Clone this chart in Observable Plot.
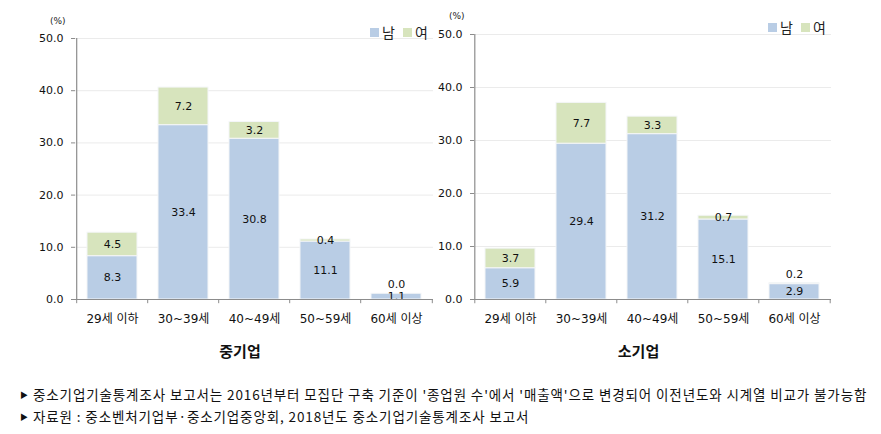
<!DOCTYPE html>
<html><head><meta charset="utf-8">
<script src="https://cdn.jsdelivr.net/npm/d3@7"></script>
<script src="https://cdn.jsdelivr.net/npm/@observablehq/plot@0.6"></script>
<style>
body{margin:0;background:#fff;}
#wrap{position:relative;width:881px;height:434px;overflow:hidden;font-family:"DejaVu Sans","Noto Sans CJK KR",sans-serif;}
.chart{position:absolute;top:0;}
.title{position:absolute;font-family:"Noto Sans CJK KR",sans-serif;font-weight:bold;font-size:15px;color:#111;transform:translate(-50%,-50%);white-space:nowrap;}
.unit{position:absolute;font-size:9px;color:#222;font-family:"DejaVu Sans",sans-serif;}
.legend{position:absolute;display:flex;align-items:center;font-family:"Noto Sans CJK KR",sans-serif;font-size:14px;color:#222;line-height:1;}
.legend .sw{width:9px;height:9px;display:inline-block;margin-right:3px;}
.legend .it{display:flex;align-items:center;margin-right:8px;}
.note{position:absolute;left:20px;font-family:"Noto Sans CJK KR",sans-serif;font-size:13.5px;color:#111;white-space:nowrap;letter-spacing:0.88px;line-height:1;}
.note .tri{font-size:8px;margin-right:5px;position:relative;top:-2px;letter-spacing:0;}
</style></head>
<body><div id="wrap"></div>
<script>
const categories = ["29세 이하","30~39세","40~49세","50~59세","60세 이상"];
const seriesNames = ["남","여"];
const seriesColors = ["#b9cde5","#d7e4bd"];
const midMale = [8.3,33.4,30.8,11.1,1.1];
const midFemale = [4.5,7.2,3.2,0.4,0.0];
const smallMale = [5.9,29.4,31.2,15.1,2.9];
const smallFemale = [3.7,7.7,3.3,0.7,0.2];
const yTicks = [0,10,20,30,40,50];
const titles = ["중기업","소기업"];
const notes = [
  "중소기업기술통계조사 보고서는 2016년부터 모집단 구축 기준이 '종업원 수'에서 '매출액'으로 변경되어 이전년도와 시계열 비교가 불가능함",
  "자료원 : 중소벤처기업부·중소기업중앙회, 2018년도 중소기업기술통계조사 보고서"
];

const wrap = document.getElementById("wrap");

function makeChart(male, female, cfg){
  const rows = [];
  categories.forEach((c,i)=>{
    rows.push({cat:c, sex:seriesNames[0], value:male[i]});
    rows.push({cat:c, sex:seriesNames[1], value:female[i]});
  });
  const labels = [];
  categories.forEach((c,i)=>{
    labels.push({cat:c, y:male[i]/2, t:male[i].toFixed(1), small:false});
    const small = female[i] < 0.3;
    labels.push({cat:c, y: small ? male[i]+female[i] : male[i]+female[i]/2, t:female[i].toFixed(1), small});
  });
  const n = categories.length;
  const step = (cfg.width - cfg.marginLeft - cfg.marginRight)/n;
  const axisColor = "#8c8c8c";
  const chart = Plot.plot({
    width: cfg.width, height: 365,
    marginTop: cfg.marginTop, marginBottom: 66,
    marginLeft: cfg.marginLeft, marginRight: cfg.marginRight,
    style: {fontFamily:'"DejaVu Sans","Noto Sans CJK KR",sans-serif', background:"transparent", overflow:"visible", color:"#222"},
    x: {domain: categories, paddingInner: 0.29, paddingOuter: 0.145, axis: null},
    y: {domain: [0,50], axis: null},
    color: {domain: seriesNames, range: seriesColors},
    marks: [
      Plot.ruleY(yTicks.filter(d=>d>0), {stroke:"#ebebeb"}),
      Plot.barY(rows, {x:"cat", y:"value", fill:"sex", stroke:"#f4f6f8", strokeWidth:1}),
      Plot.text(labels.filter(d=>!d.small), {x:"cat", y:"y", text:"t", fontSize:11, fill:"#111"}),
      Plot.text(labels.filter(d=>d.small), {x:"cat", y:"y", text:"t", fontSize:11, fill:"#111", dy:-9}),
      Plot.ruleY([0], {stroke:axisColor, strokeWidth:1.2}),
      Plot.ruleX([categories[0]], {y1:0, y2:50, dx:-step/2, stroke:axisColor, strokeWidth:1.2}),
      Plot.ruleX(categories, {y1:0, y2:-0.8, dx:-step/2, stroke:axisColor}),
      Plot.ruleX([categories[n-1]], {y1:0, y2:-0.8, dx:step/2, stroke:axisColor}),
      Plot.axisY({ticks:yTicks, tickFormat:d3.format(".1f"), tickSize:4, tickPadding:8, stroke:axisColor, fill:"#111", fontSize:11, label:null}),
      Plot.axisX({tickSize:0, tickPadding:15, fontSize:12, fill:"#111", label:null})
    ]
  });
  chart.classList.add("chart");
  chart.style.left = cfg.left + "px";
  wrap.appendChild(chart);

  const t = document.createElement("div");
  t.className = "title";
  t.textContent = cfg.title;
  t.style.left = (cfg.left + cfg.marginLeft + (cfg.width - cfg.marginLeft - cfg.marginRight)/2 - 14) + "px";
  t.style.top = "350px";
  wrap.appendChild(t);

  const u = document.createElement("div");
  u.className = "unit";
  u.textContent = "(%)";
  u.style.left = cfg.unitX + "px";
  u.style.top = cfg.unitY + "px";
  wrap.appendChild(u);

  const lg = document.createElement("div");
  lg.className = "legend";
  lg.style.left = cfg.legX + "px";
  lg.style.top = cfg.legY + "px";
  seriesNames.forEach((s,i)=>{
    const it = document.createElement("span");
    it.className = "it";
    const sw = document.createElement("span");
    sw.className = "sw";
    sw.style.background = seriesColors[i];
    it.appendChild(sw);
    it.appendChild(document.createTextNode(s));
    lg.appendChild(it);
  });
  wrap.appendChild(lg);
}

makeChart(midMale, midFemale, {title:titles[0], left:0, width:440, marginLeft:75, marginRight:7, marginTop:38, unitX:50, unitY:16, legX:370, legY:25});
makeChart(smallMale, smallFemale, {title:titles[1], left:440, width:441, marginLeft:34, marginRight:50, marginTop:34, unitX:449, unitY:11, legX:768, legY:20});

notes.forEach((s,i)=>{
  const d = document.createElement("div");
  d.className = "note";
  d.style.top = (i===0 ? 388 : 410) + "px";
  const tri = document.createElement("span");
  tri.className = "tri";
  tri.textContent = "▶";
  d.appendChild(tri);
  d.appendChild(document.createTextNode(s));
  wrap.appendChild(d);
});
</script>
</body></html>
